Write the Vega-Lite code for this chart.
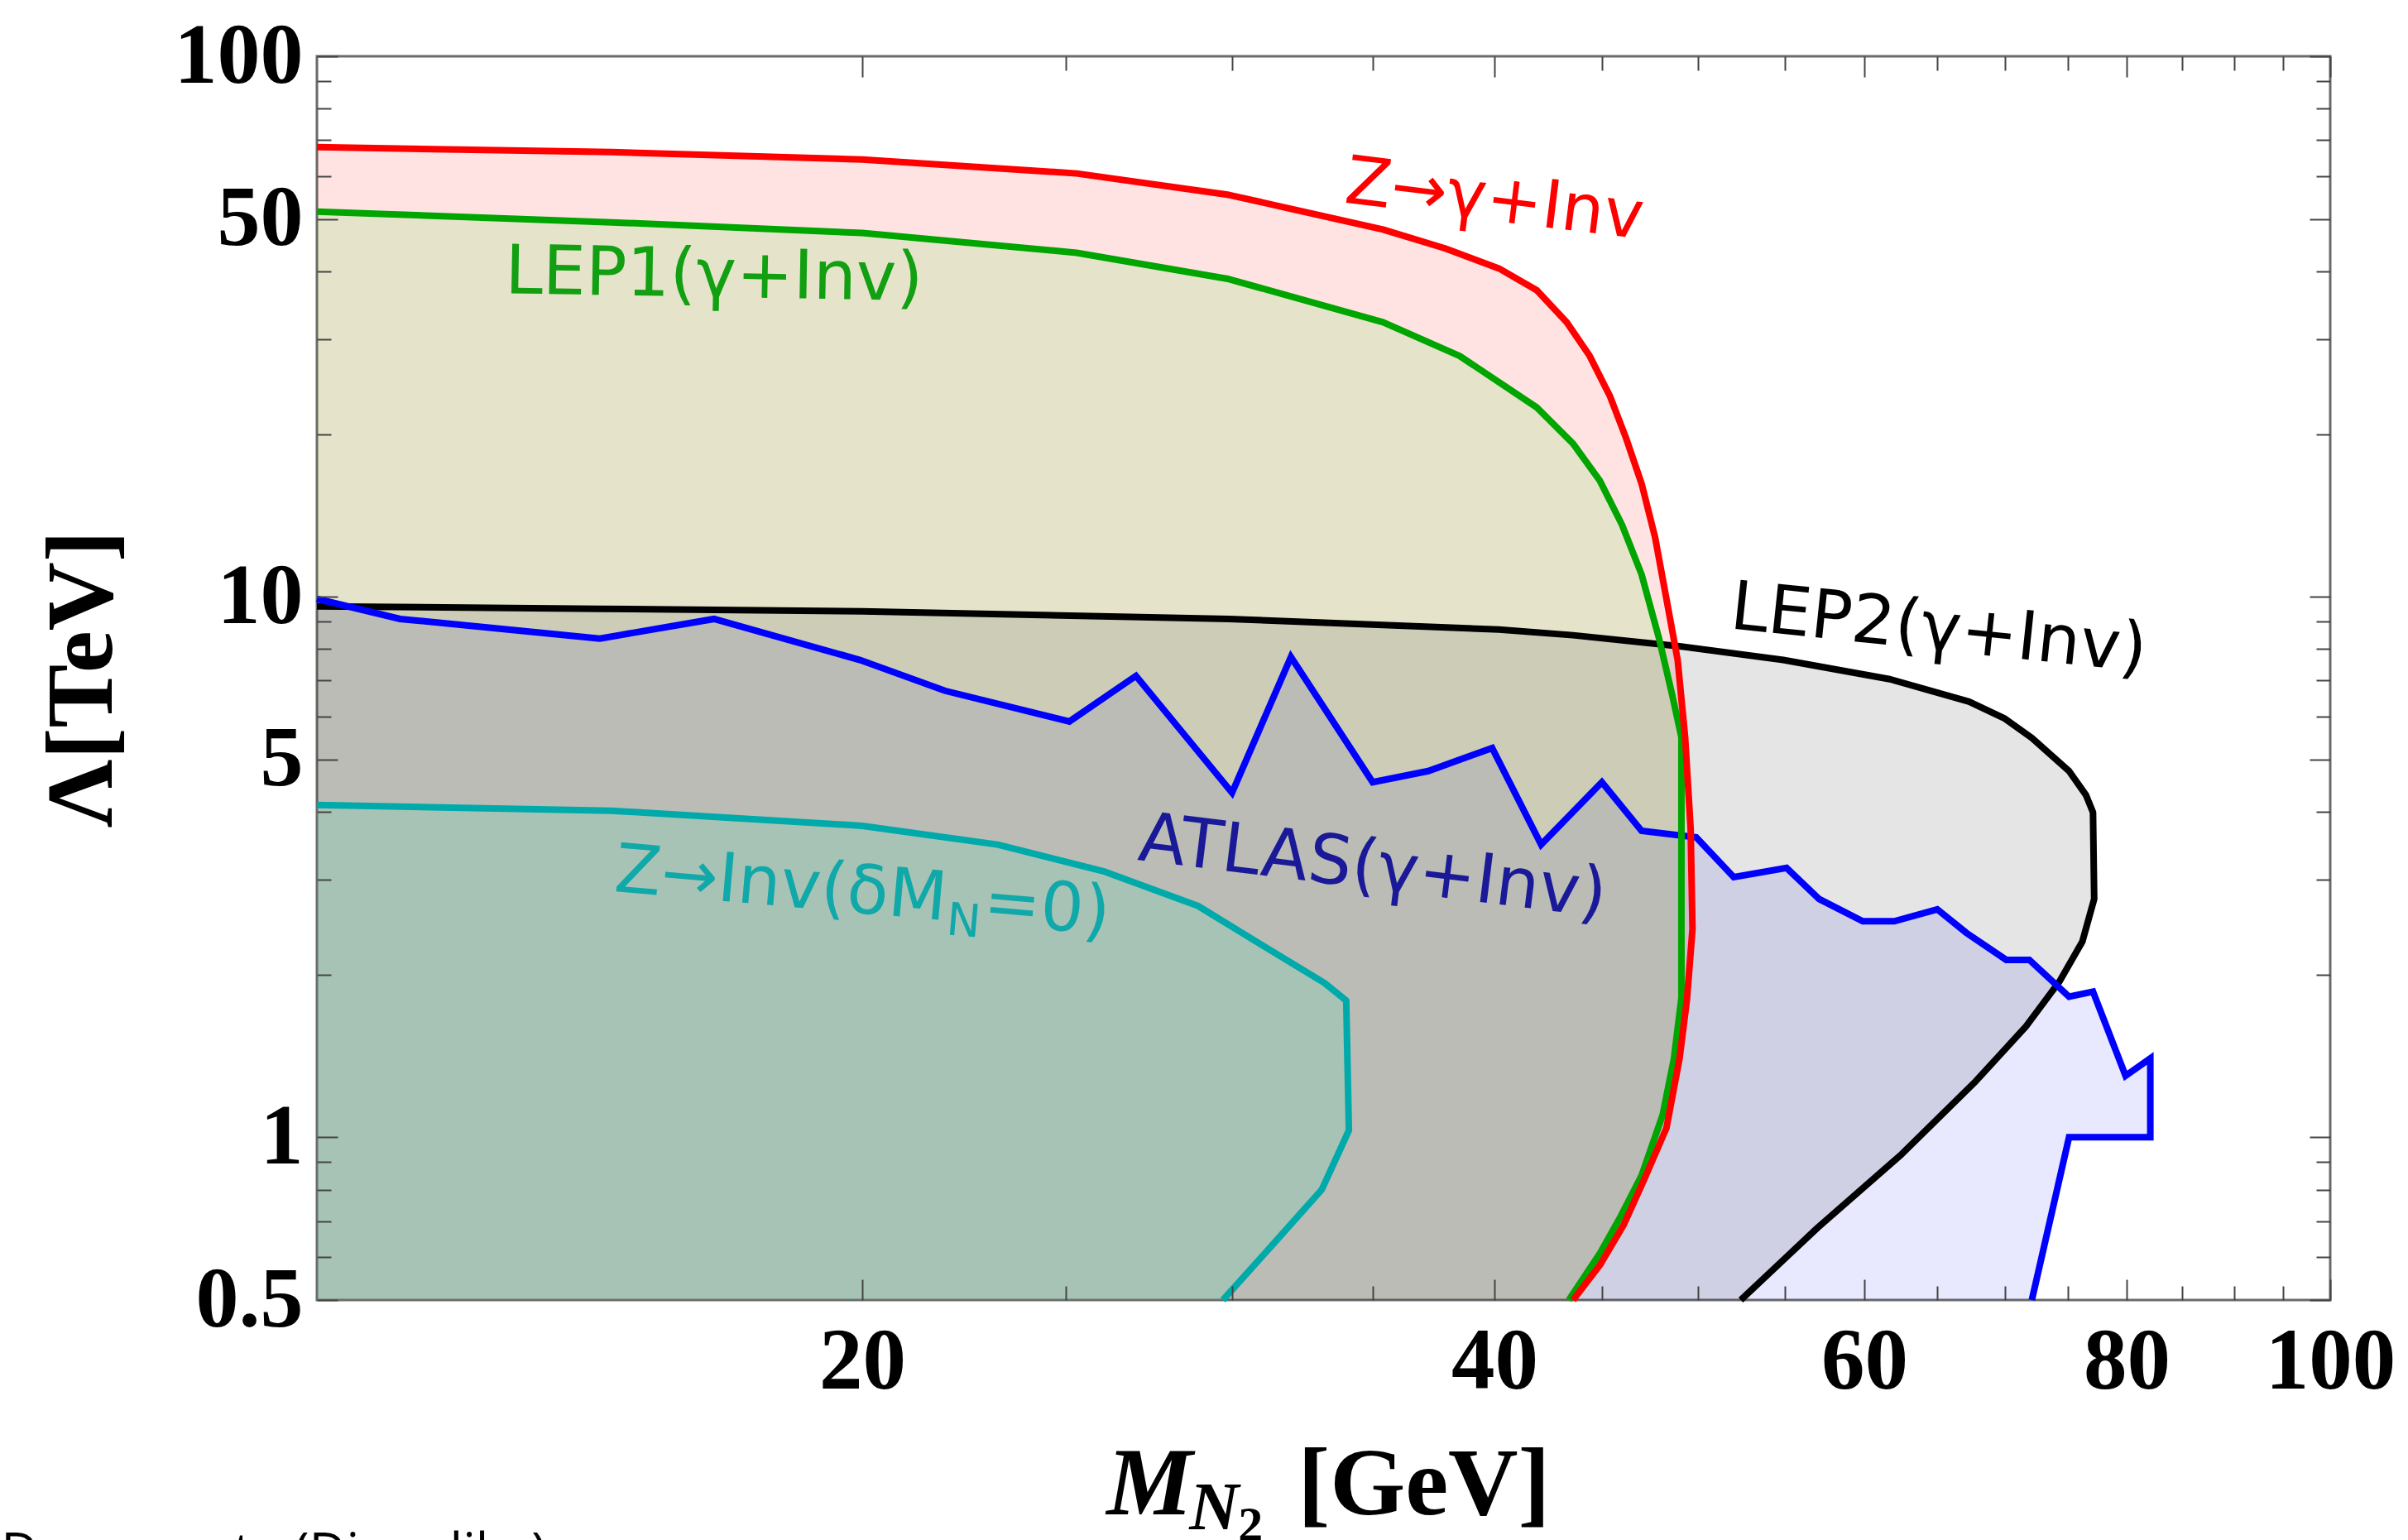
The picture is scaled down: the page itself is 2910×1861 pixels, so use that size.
{
  "$schema": "https://vega.github.io/schema/vega-lite/v6.json",
  "width": 2433,
  "height": 1503,
  "autosize": {"type": "none"},
  "padding": {"left": 383, "top": 68, "right": 94, "bottom": 290},
  "background": "white",
  "config": {"view": {"stroke": "#6b6b6b", "strokeWidth": 3}},
  "datasets": {
    "curves": [
      {"s": "Z", "x": 11, "y": 0.5, "c": 1},
      {"s": "Z", "x": 11, "y": 67.9}, {"s": "Z", "x": 15.2, "y": 66.5}, {"s": "Z", "x": 20, "y": 64.4},
      {"s": "Z", "x": 25.3, "y": 60.7}, {"s": "Z", "x": 29.9, "y": 55.4}, {"s": "Z", "x": 35.4, "y": 47.8},
      {"s": "Z", "x": 37.9, "y": 44.1}, {"s": "Z", "x": 40.2, "y": 40.5}, {"s": "Z", "x": 41.9, "y": 36.9},
      {"s": "Z", "x": 43.3, "y": 32.2}, {"s": "Z", "x": 44.4, "y": 27.9}, {"s": "Z", "x": 45.4, "y": 23.5},
      {"s": "Z", "x": 46.2, "y": 19.7}, {"s": "Z", "x": 47.0, "y": 16.2}, {"s": "Z", "x": 47.7, "y": 12.9},
      {"s": "Z", "x": 48.3, "y": 9.91}, {"s": "Z", "x": 48.9, "y": 7.63}, {"s": "Z", "x": 49.3, "y": 5.5},
      {"s": "Z", "x": 49.6, "y": 3.72}, {"s": "Z", "x": 49.7, "y": 2.43}, {"s": "Z", "x": 49.4, "y": 1.8},
      {"s": "Z", "x": 49.0, "y": 1.4}, {"s": "Z", "x": 48.3, "y": 1.04}, {"s": "Z", "x": 47.1, "y": 0.83},
      {"s": "Z", "x": 46.1, "y": 0.69}, {"s": "Z", "x": 44.9, "y": 0.58}, {"s": "Z", "x": 43.6, "y": 0.5},

      {"s": "L1", "x": 11, "y": 0.5, "c": 1},
      {"s": "L1", "x": 11, "y": 51.6}, {"s": "L1", "x": 15.2, "y": 49.3}, {"s": "L1", "x": 20, "y": 47.1},
      {"s": "L1", "x": 25.3, "y": 43.3}, {"s": "L1", "x": 29.9, "y": 38.7}, {"s": "L1", "x": 35.4, "y": 32.2},
      {"s": "L1", "x": 38.5, "y": 27.9}, {"s": "L1", "x": 41.9, "y": 22.4}, {"s": "L1", "x": 43.6, "y": 19.2},
      {"s": "L1", "x": 44.9, "y": 16.4}, {"s": "L1", "x": 46.0, "y": 13.6}, {"s": "L1", "x": 47.0, "y": 11.0},
      {"s": "L1", "x": 47.9, "y": 8.4}, {"s": "L1", "x": 48.6, "y": 6.6}, {"s": "L1", "x": 49.1, "y": 5.5},
      {"s": "L1", "x": 49.1, "y": 1.81}, {"s": "L1", "x": 48.7, "y": 1.4}, {"s": "L1", "x": 48.1, "y": 1.1},
      {"s": "L1", "x": 47.0, "y": 0.85}, {"s": "L1", "x": 45.9, "y": 0.71}, {"s": "L1", "x": 44.9, "y": 0.61},
      {"s": "L1", "x": 43.4, "y": 0.5},

      {"s": "L2", "x": 11, "y": 0.5, "c": 1},
      {"s": "L2", "x": 11, "y": 9.6}, {"s": "L2", "x": 15, "y": 9.5}, {"s": "L2", "x": 20, "y": 9.4},
      {"s": "L2", "x": 29.9, "y": 9.1}, {"s": "L2", "x": 40.2, "y": 8.7}, {"s": "L2", "x": 43.6, "y": 8.49},
      {"s": "L2", "x": 49.0, "y": 8.1}, {"s": "L2", "x": 54.9, "y": 7.64}, {"s": "L2", "x": 61.7, "y": 7.04},
      {"s": "L2", "x": 67.3, "y": 6.4}, {"s": "L2", "x": 70.0, "y": 5.95}, {"s": "L2", "x": 72.1, "y": 5.48},
      {"s": "L2", "x": 75.1, "y": 4.76}, {"s": "L2", "x": 76.5, "y": 4.3}, {"s": "L2", "x": 77.1, "y": 3.99},
      {"s": "L2", "x": 77.2, "y": 2.76}, {"s": "L2", "x": 76.2, "y": 2.3}, {"s": "L2", "x": 74.3, "y": 1.94},
      {"s": "L2", "x": 71.6, "y": 1.6}, {"s": "L2", "x": 67.8, "y": 1.27}, {"s": "L2", "x": 62.5, "y": 0.93},
      {"s": "L2", "x": 57.0, "y": 0.68}, {"s": "L2", "x": 52.4, "y": 0.5},

      {"s": "AT", "x": 11, "y": 0.5, "c": 1},
      {"s": "AT", "x": 11, "y": 9.91}, {"s": "AT", "x": 12.05, "y": 9.1}, {"s": "AT", "x": 15.0, "y": 8.37},
      {"s": "AT", "x": 17.0, "y": 9.1}, {"s": "AT", "x": 19.95, "y": 7.64}, {"s": "AT", "x": 21.9, "y": 6.7},
      {"s": "AT", "x": 25.1, "y": 5.88}, {"s": "AT", "x": 27.0, "y": 7.14}, {"s": "AT", "x": 30.0, "y": 4.34},
      {"s": "AT", "x": 32.0, "y": 7.74}, {"s": "AT", "x": 35.0, "y": 4.54}, {"s": "AT", "x": 37.2, "y": 4.76},
      {"s": "AT", "x": 39.9, "y": 5.25}, {"s": "AT", "x": 42.1, "y": 3.48}, {"s": "AT", "x": 45.0, "y": 4.54},
      {"s": "AT", "x": 47.0, "y": 3.69}, {"s": "AT", "x": 49.9, "y": 3.59}, {"s": "AT", "x": 52.0, "y": 3.03},
      {"s": "AT", "x": 55.1, "y": 3.15}, {"s": "AT", "x": 57.1, "y": 2.76}, {"s": "AT", "x": 59.9, "y": 2.51},
      {"s": "AT", "x": 62.0, "y": 2.51}, {"s": "AT", "x": 65.0, "y": 2.64}, {"s": "AT", "x": 67.1, "y": 2.39},
      {"s": "AT", "x": 70.1, "y": 2.13}, {"s": "AT", "x": 71.9, "y": 2.13}, {"s": "AT", "x": 75.1, "y": 1.82},
      {"s": "AT", "x": 77.1, "y": 1.86}, {"s": "AT", "x": 79.9, "y": 1.3}, {"s": "AT", "x": 82.1, "y": 1.4},
      {"s": "AT", "x": 82.1, "y": 1.0}, {"s": "AT", "x": 75.1, "y": 1.0}, {"s": "AT", "x": 72.1, "y": 0.5},

      {"s": "ZI", "x": 11, "y": 0.5, "c": 1},
      {"s": "ZI", "x": 11, "y": 4.12}, {"s": "ZI", "x": 15.2, "y": 4.02}, {"s": "ZI", "x": 20, "y": 3.77},
      {"s": "ZI", "x": 23.2, "y": 3.48}, {"s": "ZI", "x": 26.1, "y": 3.1}, {"s": "ZI", "x": 28.9, "y": 2.68},
      {"s": "ZI", "x": 31.4, "y": 2.2}, {"s": "ZI", "x": 33.2, "y": 1.93}, {"s": "ZI", "x": 34.0, "y": 1.79},
      {"s": "ZI", "x": 34.1, "y": 1.03}, {"s": "ZI", "x": 33.1, "y": 0.8}, {"s": "ZI", "x": 31.4, "y": 0.636},
      {"s": "ZI", "x": 29.7, "y": 0.5}
    ]
  },
  "resolve": {"axis": {"x": "independent", "y": "independent"}},
  "layer": [
    {
      "data": {"name": "curves"},
      "transform": [{"filter": "datum.s === 'AT'"}],
      "mark": {"type": "line", "fill": "#0000ff", "fillOpacity": 0.09, "strokeOpacity": 0, "strokeWidth": 0},
      "encoding": {
        "x": {"field": "x", "type": "quantitative", "scale": {"type": "log", "domain": [11, 100], "nice": false},
          "axis": {"orient": "bottom", "values": [20, 25, 30, 35, 40, 45, 50, 55, 60, 65, 70, 75, 80, 85, 90, 95, 100],
            "labelExpr": "indexof([20,40,60,80,100], datum.value) >= 0 ? '' + datum.value : ''",
            "tickSize": {"condition": {"test": "indexof([20,40,60,80,100], datum.value) >= 0", "value": -25}, "value": -17},
            "tickColor": "#444444", "tickWidth": 2, "domain": false, "grid": false, "title": null,
            "labelFont": "Liberation Serif", "labelFontWeight": "bold", "labelFontSize": 105, "labelColor": "#000000",
            "labelPadding": 48, "labelOverlap": false, "labelFlush": false, "labelBaseline": "top", "zindex": 1}},
        "y": {"field": "y", "type": "quantitative", "scale": {"type": "log", "domain": [0.5, 100], "nice": false},
          "axis": {"orient": "left", "values": [0.5, 0.6, 0.7, 0.8, 0.9, 1, 2, 3, 4, 5, 6, 7, 8, 9, 10, 20, 30, 40, 50, 60, 70, 80, 90, 100],
            "labelExpr": "indexof([0.5,1,5,10,50,100], datum.value) >= 0 ? '' + datum.value : ''",
            "tickSize": {"condition": {"test": "indexof([0.5,1,5,10,50,100], datum.value) >= 0", "value": -25}, "value": -17},
            "tickColor": "#444444", "tickWidth": 2, "domain": false, "grid": false,
            "labelFont": "Liberation Serif", "labelFontWeight": "bold", "labelFontSize": 104, "labelColor": "#000000",
            "labelPadding": 42, "labelOverlap": false, "labelFlush": false, "zindex": 1,
            "title": "Λ[TeV]", "titleFont": "Liberation Serif", "titleFontWeight": "bold", "titleFontSize": 115,
            "titleColor": "#000000", "titleX": -284, "titleY": 752, "titleAngle": 270, "titleBaseline": "middle", "titleAlign": "center"}},
        "order": {"value": null}
      }
    },
    {
      "data": {"name": "curves"},
      "transform": [{"filter": "datum.s === 'Z'"}],
      "mark": {"type": "line", "fill": "#ff0000", "fillOpacity": 0.11, "strokeOpacity": 0, "strokeWidth": 0},
      "encoding": {
        "x": {"field": "x", "type": "quantitative", "scale": {"type": "log", "domain": [11, 100], "nice": false},
          "axis": {"orient": "top", "values": [20, 25, 30, 35, 40, 45, 50, 55, 60, 65, 70, 75, 80, 85, 90, 95, 100],
            "labels": false,
            "tickSize": {"condition": {"test": "indexof([20,40,60,80,100], datum.value) >= 0", "value": -25}, "value": -17},
            "tickColor": "#444444", "tickWidth": 2, "domain": false, "grid": false, "title": null, "zindex": 1}},
        "y": {"field": "y", "type": "quantitative", "scale": {"type": "log", "domain": [0.5, 100], "nice": false},
          "axis": {"orient": "right", "values": [0.5, 0.6, 0.7, 0.8, 0.9, 1, 2, 3, 4, 5, 6, 7, 8, 9, 10, 20, 30, 40, 50, 60, 70, 80, 90, 100],
            "labels": false,
            "tickSize": {"condition": {"test": "indexof([0.5,1,5,10,50,100], datum.value) >= 0", "value": -25}, "value": -17},
            "tickColor": "#444444", "tickWidth": 2, "domain": false, "grid": false, "title": null, "zindex": 1}},
        "order": {"value": null}
      }
    },
    {
      "data": {"name": "curves"},
      "transform": [{"filter": "datum.s === 'L1'"}],
      "mark": {"type": "line", "fill": "#00fa00", "fillOpacity": 0.1, "strokeOpacity": 0, "strokeWidth": 0},
      "encoding": {
        "x": {"field": "x", "type": "quantitative", "scale": {"type": "log", "domain": [11, 100], "nice": false}, "axis": null},
        "y": {"field": "y", "type": "quantitative", "scale": {"type": "log", "domain": [0.5, 100], "nice": false}, "axis": null},
        "order": {"value": null}
      }
    },
    {
      "data": {"name": "curves"},
      "transform": [{"filter": "datum.s === 'L2'"}],
      "mark": {"type": "line", "fill": "#000000", "fillOpacity": 0.1, "strokeOpacity": 0, "strokeWidth": 0},
      "encoding": {
        "x": {"field": "x", "type": "quantitative", "scale": {"type": "log", "domain": [11, 100], "nice": false}, "axis": null},
        "y": {"field": "y", "type": "quantitative", "scale": {"type": "log", "domain": [0.5, 100], "nice": false}, "axis": null},
        "order": {"value": null}
      }
    },
    {
      "data": {"name": "curves"},
      "transform": [{"filter": "datum.s === 'ZI'"}],
      "mark": {"type": "line", "fill": "#66d6b8", "fillOpacity": 0.25, "strokeOpacity": 0, "strokeWidth": 0},
      "encoding": {
        "x": {"field": "x", "type": "quantitative", "scale": {"type": "log", "domain": [11, 100], "nice": false}, "axis": null},
        "y": {"field": "y", "type": "quantitative", "scale": {"type": "log", "domain": [0.5, 100], "nice": false}, "axis": null},
        "order": {"value": null}
      }
    },
    {
      "data": {"name": "curves"},
      "transform": [{"filter": "datum.s === 'ZI' && datum.c !== 1"}],
      "mark": {"type": "line", "color": "#00aaaa", "strokeWidth": 8, "strokeJoin": "round"},
      "encoding": {
        "x": {"field": "x", "type": "quantitative", "scale": {"type": "log", "domain": [11, 100], "nice": false}, "axis": null},
        "y": {"field": "y", "type": "quantitative", "scale": {"type": "log", "domain": [0.5, 100], "nice": false}, "axis": null},
        "order": {"value": null}
      }
    },
    {
      "data": {"name": "curves"},
      "transform": [{"filter": "datum.s === 'L2' && datum.c !== 1"}],
      "mark": {"type": "line", "color": "#000000", "strokeWidth": 8, "strokeJoin": "round"},
      "encoding": {
        "x": {"field": "x", "type": "quantitative", "scale": {"type": "log", "domain": [11, 100], "nice": false}, "axis": null},
        "y": {"field": "y", "type": "quantitative", "scale": {"type": "log", "domain": [0.5, 100], "nice": false}, "axis": null},
        "order": {"value": null}
      }
    },
    {
      "data": {"name": "curves"},
      "transform": [{"filter": "datum.s === 'AT' && datum.c !== 1"}],
      "mark": {"type": "line", "color": "#0000ff", "strokeWidth": 8, "strokeJoin": "miter"},
      "encoding": {
        "x": {"field": "x", "type": "quantitative", "scale": {"type": "log", "domain": [11, 100], "nice": false}, "axis": null},
        "y": {"field": "y", "type": "quantitative", "scale": {"type": "log", "domain": [0.5, 100], "nice": false}, "axis": null},
        "order": {"value": null}
      }
    },
    {
      "data": {"name": "curves"},
      "transform": [{"filter": "datum.s === 'L1' && datum.c !== 1"}],
      "mark": {"type": "line", "color": "#00a500", "strokeWidth": 8, "strokeJoin": "round"},
      "encoding": {
        "x": {"field": "x", "type": "quantitative", "scale": {"type": "log", "domain": [11, 100], "nice": false}, "axis": null},
        "y": {"field": "y", "type": "quantitative", "scale": {"type": "log", "domain": [0.5, 100], "nice": false}, "axis": null},
        "order": {"value": null}
      }
    },
    {
      "data": {"name": "curves"},
      "transform": [{"filter": "datum.s === 'Z' && datum.c !== 1"}],
      "mark": {"type": "line", "color": "#ff0000", "strokeWidth": 8, "strokeJoin": "round"},
      "encoding": {
        "x": {"field": "x", "type": "quantitative", "scale": {"type": "log", "domain": [11, 100], "nice": false}, "axis": null},
        "y": {"field": "y", "type": "quantitative", "scale": {"type": "log", "domain": [0.5, 100], "nice": false}, "axis": null},
        "order": {"value": null}
      }
    },
    {
      "data": {"values": [{}]},
      "mark": {"type": "text", "text": "Z→γ+Inv", "font": "DejaVu Sans", "fontSize": 81, "fill": "#ff0000", "angle": 7, "align": "center", "baseline": "middle"},
      "encoding": {"x": {"datum": 40.0, "type": "quantitative", "scale": {"type": "log", "domain": [11, 100], "nice": false}, "axis": null},
        "y": {"datum": 54.0, "type": "quantitative", "scale": {"type": "log", "domain": [0.5, 100], "nice": false}, "axis": null}}
    },
    {
      "data": {"values": [{}]},
      "mark": {"type": "text", "text": "LEP1(γ+Inv)", "font": "DejaVu Sans", "fontSize": 82, "fill": "#12a012", "angle": 1, "align": "center", "baseline": "middle"},
      "encoding": {"x": {"datum": 17.0, "type": "quantitative", "scale": {"type": "log", "domain": [11, 100], "nice": false}, "axis": null},
        "y": {"datum": 39.2, "type": "quantitative", "scale": {"type": "log", "domain": [0.5, 100], "nice": false}, "axis": null}}
    },
    {
      "data": {"values": [{}]},
      "mark": {"type": "text", "text": "LEP2(γ+Inv)", "font": "DejaVu Sans", "fontSize": 82, "fill": "#000000", "angle": 6, "align": "center", "baseline": "middle"},
      "encoding": {"x": {"datum": 65.1, "type": "quantitative", "scale": {"type": "log", "domain": [11, 100], "nice": false}, "axis": null},
        "y": {"datum": 8.7, "type": "quantitative", "scale": {"type": "log", "domain": [0.5, 100], "nice": false}, "axis": null}}
    },
    {
      "data": {"values": [{}]},
      "mark": {"type": "text", "text": "ATLAS(γ+Inv)", "font": "DejaVu Sans", "fontSize": 83, "fill": "#1a1a99", "angle": 7, "align": "center", "baseline": "middle"},
      "encoding": {"x": {"datum": 35.0, "type": "quantitative", "scale": {"type": "log", "domain": [11, 100], "nice": false}, "axis": null},
        "y": {"datum": 3.15, "type": "quantitative", "scale": {"type": "log", "domain": [0.5, 100], "nice": false}, "axis": null}}
    },
    {
      "data": {"values": [{}]},
      "mark": {"type": "text", "text": "Z→Inv(δM", "font": "DejaVu Sans", "fontSize": 82, "fill": "#10a8a8", "angle": 5, "align": "right", "baseline": "alphabetic"},
      "encoding": {"x": {"datum": 21.9, "type": "quantitative", "scale": {"type": "log", "domain": [11, 100], "nice": false}, "axis": null},
        "y": {"datum": 2.52, "type": "quantitative", "scale": {"type": "log", "domain": [0.5, 100], "nice": false}, "axis": null}}
    },
    {
      "data": {"values": [{}]},
      "mark": {"type": "text", "text": "N", "font": "DejaVu Sans", "fontSize": 55, "fill": "#10a8a8", "angle": 5, "align": "left", "baseline": "alphabetic", "dx": 2, "dy": 17},
      "encoding": {"x": {"datum": 21.9, "type": "quantitative", "scale": {"type": "log", "domain": [11, 100], "nice": false}, "axis": null},
        "y": {"datum": 2.52, "type": "quantitative", "scale": {"type": "log", "domain": [0.5, 100], "nice": false}, "axis": null}}
    },
    {
      "data": {"values": [{}]},
      "mark": {"type": "text", "text": "=0)", "font": "DejaVu Sans", "fontSize": 82, "fill": "#10a8a8", "angle": 5, "align": "left", "baseline": "alphabetic", "dx": 45},
      "encoding": {"x": {"datum": 21.9, "type": "quantitative", "scale": {"type": "log", "domain": [11, 100], "nice": false}, "axis": null},
        "y": {"datum": 2.52, "type": "quantitative", "scale": {"type": "log", "domain": [0.5, 100], "nice": false}, "axis": null}}
    },
    {
      "data": {"values": [{}]},
      "mark": {"type": "text", "text": "M", "font": "Liberation Serif", "fontSize": 117, "fontWeight": "bold", "fontStyle": "italic", "fill": "#000000", "align": "right", "baseline": "alphabetic"},
      "encoding": {"x": {"datum": 28.73, "type": "quantitative", "scale": {"type": "log", "domain": [11, 100], "nice": false}, "axis": null},
        "y": {"datum": 0.2006, "type": "quantitative", "scale": {"type": "log", "domain": [0.5, 100], "nice": false}, "axis": null}}
    },
    {
      "data": {"values": [{}]},
      "mark": {"type": "text", "text": "N", "font": "Liberation Serif", "fontSize": 83, "fontWeight": "bold", "fontStyle": "italic", "fill": "#000000", "align": "left", "baseline": "alphabetic", "dx": -4, "dy": 18},
      "encoding": {"x": {"datum": 28.73, "type": "quantitative", "scale": {"type": "log", "domain": [11, 100], "nice": false}, "axis": null},
        "y": {"datum": 0.2006, "type": "quantitative", "scale": {"type": "log", "domain": [0.5, 100], "nice": false}, "axis": null}}
    },
    {
      "data": {"values": [{}]},
      "mark": {"type": "text", "text": "2", "font": "Liberation Serif", "fontSize": 60, "fontWeight": "bold", "fill": "#000000", "align": "left", "baseline": "alphabetic", "dx": 55, "dy": 32},
      "encoding": {"x": {"datum": 28.73, "type": "quantitative", "scale": {"type": "log", "domain": [11, 100], "nice": false}, "axis": null},
        "y": {"datum": 0.2006, "type": "quantitative", "scale": {"type": "log", "domain": [0.5, 100], "nice": false}, "axis": null}}
    },
    {
      "data": {"values": [{}]},
      "mark": {"type": "text", "text": "[GeV]", "font": "Liberation Serif", "fontSize": 117, "fontWeight": "bold", "fill": "#000000", "align": "left", "baseline": "alphabetic", "dx": 127},
      "encoding": {"x": {"datum": 28.73, "type": "quantitative", "scale": {"type": "log", "domain": [11, 100], "nice": false}, "axis": null},
        "y": {"datum": 0.2006, "type": "quantitative", "scale": {"type": "log", "domain": [0.5, 100], "nice": false}, "axis": null}}
    },
    {
      "data": {"values": [{}]},
      "mark": {"type": "text", "text": "Degenerate (Dirac-like)", "font": "Open Sans", "fontSize": 62, "fill": "#000000", "align": "left", "baseline": "alphabetic"},
      "encoding": {"x": {"datum": 7.78, "type": "quantitative", "scale": {"type": "log", "domain": [11, 100], "nice": false}, "axis": null},
        "y": {"datum": 0.1585, "type": "quantitative", "scale": {"type": "log", "domain": [0.5, 100], "nice": false}, "axis": null}}
    }
  ]
}
